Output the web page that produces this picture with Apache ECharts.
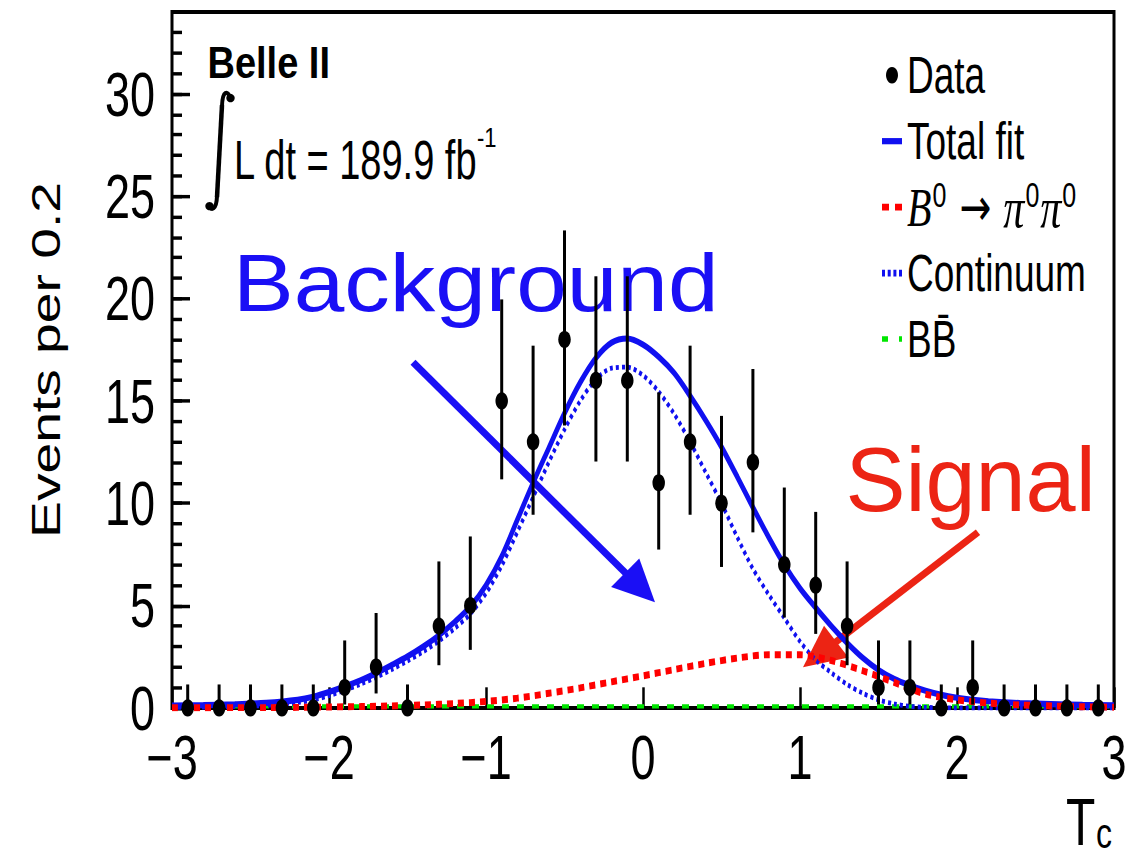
<!DOCTYPE html>
<html>
<head>
<meta charset="utf-8">
<title>Tc distribution</title>
<script src="https://cdn.jsdelivr.net/npm/echarts@6/dist/echarts.min.js"></script>
<style>
  html, body { margin: 0; padding: 0; background: #fff; overflow: hidden; }
  #wrap { width: 1140px; height: 857px; overflow: hidden; }
  /* the plot is laid out in a short box and stretched vertically */
  #chart { width: 1140px; height: 621px; transform: scaleY(1.380032); transform-origin: 0 0; }
</style>
</head>
<body>
<div id="wrap"><div id="chart"></div></div>
<script>
// ---- binned data (bin width 0.2) ----
const binCenters = [-2.9, -2.7, -2.5, -2.3, -2.1, -1.9, -1.7, -1.5, -1.3, -1.1,
                    -0.9, -0.7, -0.5, -0.3, -0.1, 0.1, 0.3, 0.5, 0.7, 0.9,
                    1.1, 1.3, 1.5, 1.7, 1.9, 2.1, 2.3, 2.5, 2.7, 2.9];
const eventCounts = [0, 0, 0, 0, 0, 1, 2, 0, 4, 5,
                     15, 13, 18, 16, 16, 11, 13, 10, 12, 7,
                     6, 4, 1, 1, 0, 1, 0, 0, 0, 0];
// lower / upper ends of the (Poisson) error bars
const errLower = [0, 0, 0, 0, 0, 0.17, 0.71, 0, 2.09, 2.84,
                  11.17, 9.44, 13.80, 12.04, 12.04, 7.74, 9.44, 6.89, 8.58, 4.42,
                  3.62, 2.09, 0.17, 0.17, 0, 0.17, 0, 0, 0, 0];
const errUpper = [1.15, 1.15, 1.15, 1.15, 1.15, 3.30, 4.64, 1.15, 7.16, 8.38,
                  19.96, 17.70, 23.33, 21.09, 21.09, 15.42, 17.70, 14.27, 16.56, 10.77,
                  9.58, 7.16, 3.30, 3.30, 1.15, 3.30, 1.15, 1.15, 1.15, 1.15];

// ---- fit curves, [Tc, events per 0.2] ----
const totalFit = [[-3.0, 0.12], [-2.8, 0.14], [-2.6, 0.18], [-2.4, 0.25], [-2.2, 0.4], [-2.1, 0.55],
  [-2.0, 0.78], [-1.9, 1.05], [-1.8, 1.35], [-1.7, 1.7], [-1.6, 2.1], [-1.5, 2.52], [-1.4, 3.0],
  [-1.3, 3.55], [-1.2, 4.2], [-1.1, 4.95], [-1.0, 6.0], [-0.9, 7.4], [-0.8, 9.2], [-0.7, 11.0],
  [-0.6, 12.7], [-0.5, 14.4], [-0.4, 15.9], [-0.3, 17.1], [-0.2, 17.85], [-0.1, 18.05], [0.0, 17.75],
  [0.1, 17.15], [0.2, 16.35], [0.3, 15.25], [0.4, 14.05], [0.5, 12.75], [0.6, 11.3], [0.7, 9.8],
  [0.8, 8.35], [0.9, 7.0], [1.0, 5.85], [1.1, 4.9], [1.2, 4.0], [1.3, 3.18], [1.4, 2.45], [1.5, 1.86],
  [1.6, 1.42], [1.7, 1.1], [1.8, 0.84], [1.9, 0.64], [2.0, 0.5], [2.1, 0.4], [2.2, 0.33],
  [2.4, 0.24], [2.6, 0.19], [2.8, 0.15], [3.0, 0.13]];
const continuumFit = [[-3.0, 0.03], [-2.8, 0.04], [-2.6, 0.07], [-2.4, 0.13], [-2.2, 0.27], [-2.1, 0.4],
  [-2.0, 0.6], [-1.9, 0.87], [-1.8, 1.16], [-1.7, 1.5], [-1.6, 1.88], [-1.5, 2.3], [-1.4, 2.75],
  [-1.3, 3.27], [-1.2, 3.88], [-1.1, 4.6], [-1.0, 5.6], [-0.9, 6.95], [-0.8, 8.6], [-0.7, 10.3],
  [-0.6, 12.0], [-0.5, 13.6], [-0.4, 15.0], [-0.3, 16.05], [-0.2, 16.6], [-0.1, 16.65], [0.0, 16.25],
  [0.1, 15.45], [0.2, 14.35], [0.3, 13.0], [0.4, 11.5], [0.5, 10.0], [0.6, 8.35], [0.7, 6.8],
  [0.8, 5.55], [0.9, 4.4], [1.0, 3.25], [1.1, 2.35], [1.2, 1.72], [1.3, 1.15], [1.4, 0.72],
  [1.5, 0.4], [1.6, 0.2], [1.7, 0.08], [1.8, 0.03], [1.9, 0.01], [2.0, 0.0], [2.5, 0.0], [3.0, 0.0]];
const signalFit = [[-3.0, 0.01], [-2.8, 0.01], [-2.6, 0.02], [-2.4, 0.02], [-2.2, 0.03], [-2.0, 0.05],
  [-1.8, 0.07], [-1.6, 0.1], [-1.4, 0.15], [-1.2, 0.22], [-1.0, 0.32], [-0.8, 0.48], [-0.6, 0.72],
  [-0.4, 0.98], [-0.2, 1.28], [0.0, 1.57], [0.2, 1.88], [0.4, 2.18], [0.6, 2.44], [0.8, 2.6],
  [1.0, 2.6], [1.2, 2.32], [1.4, 1.82], [1.6, 1.25], [1.8, 0.68], [2.0, 0.4], [2.2, 0.24],
  [2.4, 0.15], [2.6, 0.1], [2.8, 0.06], [3.0, 0.04]];
const bbFit = [[-3.0, 0.08], [-1.5, 0.08], [0.0, 0.08], [1.5, 0.08], [3.0, 0.08]];

// ---- axes ----
const xTicks = [-3, -2, -1, 0, 1, 2, 3];
const yMajorStep = 5;
const yMax = 34;

// ---- layout helpers ----
const K = 857 / 621;              // vertical stretch applied by CSS
const FONT = '"Liberation Sans", Arial, Helvetica, sans-serif';
const SERIF = '"Liberation Serif", "Times New Roman", serif';

const chart = echarts.init(document.getElementById('chart'), null, { renderer: 'svg' });

const errorBarData = binCenters.map((x, i) => [x, errLower[i], errUpper[i]]);
const pointData = binCenters.map((x, i) => [x, eventCounts[i]]);

function arrow(tail, tip, headLen, headHalf, width, color) {
  const dx = tip[0] - tail[0], dy = tip[1] - tail[1];
  const L = Math.hypot(dx, dy), ux = dx / L, uy = dy / L;
  const bx = tip[0] - ux * headLen, by = tip[1] - uy * headLen;
  return [
    { type: 'line', shape: { x1: tail[0], y1: tail[1], x2: bx + ux * 3, y2: by + uy * 3 },
      style: { stroke: color, lineWidth: width, lineCap: 'butt' } },
    { type: 'polygon', shape: { points: [tip, [bx - uy * headHalf, by + ux * headHalf], [bx + uy * headHalf, by - ux * headHalf]] },
      style: { fill: color } }
  ];
}

const legendLabels = {
  'Data': 'Data',
  'Total fit': 'Total fit',
  'B⁰ → π⁰π⁰': '{it|B}{sup|0}{ar| → }{pi|π}{sup|0}{pi|π}{sup|0}',
  'Continuum': 'Continuum',
  'BB̄': 'BB\u0304'
};

const option = {
  animation: false,
  backgroundColor: '#fff',
  grid: {
    left: 172, right: 26, top: 12 / K, bottom: (857 - 708) / K,
    show: true, borderColor: '#000', borderWidth: 3, backgroundColor: 'transparent'
  },
  xAxis: {
    type: 'value', min: xTicks[0], max: xTicks[xTicks.length - 1], interval: 1,
    axisLine: { show: false, onZero: false },
    axisTick: { show: true, inside: true, length: 15, lineStyle: { color: '#000', width: 2.5 } },
    splitLine: { show: false },
    axisLabel: {
      color: '#000', fontFamily: FONT, fontSize: 45, lineHeight: 34, margin: 18.5,
      formatter: v => (v < 0 ? '\u2212' + Math.abs(v) : String(v))
    }
  },
  yAxis: [{
    type: 'value', min: 0, max: yMax, interval: yMajorStep, position: 'left', offset: 0,
    axisLine: { show: false, onZero: false },
    axisTick: { show: true, inside: true, length: 18, lineStyle: { color: '#000', width: 2.5 } },
    splitLine: { show: false },
    axisLabel: { color: '#000', fontFamily: FONT, fontSize: 45, lineHeight: 32, margin: 17, showMaxLabel: false,
      formatter: v => (v % yMajorStep === 0 ? String(v) : '') },
    name: 'Events per 0.2', nameLocation: 'middle', nameGap: 106, nameRotate: 90,
    nameTextStyle: { color: '#000', fontFamily: FONT, fontSize: 40 }
  }, {
    type: 'value', min: 0, max: yMax, interval: 1, position: 'left', offset: 0,
    axisLine: { show: false, onZero: false },
    axisTick: { show: true, inside: true, length: 10, lineStyle: { color: '#000', width: 2.5 } },
    axisLabel: { show: false },
    splitLine: { show: false }
  }],
  legend: {
    orient: 'vertical', left: 877, top: 28.5, itemWidth: 20, itemHeight: 12, itemGap: 5.8,
    selectedMode: false,
    formatter: name => legendLabels[name],
    textStyle: {
      color: '#000', fontFamily: FONT, fontSize: 37, lineHeight: 42,
      rich: {
        it: { fontFamily: SERIF, fontStyle: 'italic', fontSize: 40, lineHeight: 42, color: '#000' },
        pi: { fontFamily: SERIF, fontStyle: 'italic', fontSize: 42, lineHeight: 42, color: '#000' },
        sup: { fontFamily: FONT, fontSize: 25, lineHeight: 16, verticalAlign: 'top', color: '#000',
               padding: [0, 1, 0, 1] },
        ar: { fontFamily: '"DejaVu Sans", sans-serif', fontSize: 38, lineHeight: 42, color: '#000' }
      }
    },
    data: [
      { name: 'Data', icon: 'circle' },
      { name: 'Total fit', icon: 'path://M0,0h20v4.5h-20z' },
      { name: 'B⁰ → π⁰π⁰', icon: 'path://M0,0h7v5h-7zM13,0h7v5h-7z' },
      { name: 'Continuum', icon: 'path://M0,0h3v5h-3zM5.7,0h3v5h-3zM11.4,0h3v5h-3zM17,0h3v5h-3z' },
      { name: 'BB̄', icon: 'path://M0,0h6v4h-6zM17,0h3v4h-3z' }
    ]
  },
  series: [
    { name: 'BB̄', type: 'line', data: bbFit, showSymbol: false, symbol: 'none', z: 1, silent: true,
      color: '#00e600', lineStyle: { color: '#00e600', width: 3, type: [7, 8] } },
    { name: 'Continuum', type: 'line', data: continuumFit, smooth: 0.3, symbol: 'none', z: 2, silent: true,
      color: '#1010f0', lineStyle: { color: '#1010f0', width: 3.5, type: [3, 3] } },
    { name: 'Total fit', type: 'line', data: totalFit, smooth: 0.3, symbol: 'none', z: 3, silent: true,
      color: '#1010f0', lineStyle: { color: '#1010f0', width: 4.5 } },
    { name: 'B⁰ → π⁰π⁰', type: 'line', data: signalFit, smooth: 0.3, symbol: 'none', z: 4, silent: true,
      color: '#ff0000', lineStyle: { color: '#ff0000', width: 5, type: [6, 5] } },
    { name: 'errors', type: 'custom', data: errorBarData, z: 5, silent: true, clip: false,
      renderItem: (params, api) => {
        const p1 = api.coord([api.value(0), api.value(1)]);
        const p2 = api.coord([api.value(0), api.value(2)]);
        return { type: 'line', shape: { x1: p1[0], y1: p1[1], x2: p2[0], y2: p2[1] },
                 style: { stroke: '#000', lineWidth: 3 } };
      } },
    { name: 'Data', type: 'scatter', data: pointData, symbol: 'circle', symbolSize: 12.5, z: 6,
      silent: true, clip: false, color: '#000', itemStyle: { color: '#000', opacity: 1 } }
  ],
  graphic: [{
    type: 'group', x: 0, y: 0, scaleY: 1 / K, silent: true,
    children: [
      { type: 'text', x: 207.5, y: 62.5, scaleY: 1.18,
        style: { text: 'Belle II', fill: '#000', fontFamily: FONT, fontWeight: 'bold', fontSize: 38,
                 align: 'left', verticalAlign: 'middle' } },
      // integral sign
      { type: 'bezierCurve', shape: { x1: 230, y1: 98, cpx1: 228, cpy1: 90, cpx2: 222.5, cpy2: 90, x2: 222, y2: 106 },
        style: { stroke: '#000', lineWidth: 4, fill: null } },
      { type: 'line', shape: { x1: 222, y1: 105, x2: 217, y2: 197 }, style: { stroke: '#000', lineWidth: 4.5 } },
      { type: 'bezierCurve', shape: { x1: 217, y1: 196, cpx1: 216.5, cpy1: 210, cpx2: 211, cpy2: 211, x2: 209, y2: 206 },
        style: { stroke: '#000', lineWidth: 4, fill: null } },
      { type: 'circle', shape: { cx: 230.5, cy: 98, r: 4.2 }, style: { fill: '#000' } },
      { type: 'circle', shape: { cx: 209.5, cy: 206, r: 4.2 }, style: { fill: '#000' } },
      { type: 'text', x: 234, y: 160, scaleY: 1.47,
        style: { text: 'L dt = 189.9 fb', fill: '#000', fontFamily: FONT, fontSize: 38,
                 align: 'left', verticalAlign: 'middle' } },
      { type: 'text', x: 477, y: 137, scaleY: 1.27,
        style: { text: '-1', fill: '#000', fontFamily: FONT, fontSize: 22,
                 align: 'left', verticalAlign: 'middle' } },
      // x-axis title T_c
      { type: 'text', x: 1066, y: 821, scaleY: 1.4,
        style: { text: 'T', fill: '#000', fontFamily: FONT, fontSize: 48,
                 align: 'left', verticalAlign: 'middle' } },
      { type: 'text', x: 1096, y: 833, scaleY: 1.3,
        style: { text: 'c', fill: '#000', fontFamily: FONT, fontSize: 32, lineHeight: 22,
                 align: 'left', verticalAlign: 'middle' } },
      { type: 'text', x: 233, y: 283, scaleY: 0.89,
        style: { text: 'Background', fill: '#1a0ff5', fontFamily: FONT, fontSize: 91,
                 align: 'left', verticalAlign: 'middle' } },
      { type: 'text', x: 845.5, y: 480,
        style: { text: 'Signal', fill: '#ec2414', fontFamily: FONT, fontSize: 90,
                 align: 'left', verticalAlign: 'middle' } },
      ...arrow([413, 362], [655, 602], 42, 20, 7, '#1a0ff5'),
      ...arrow([978, 532], [803, 667], 42, 20, 7, '#ec2414')
    ]
  }]
};

chart.setOption(option);
</script>
</body>
</html>
